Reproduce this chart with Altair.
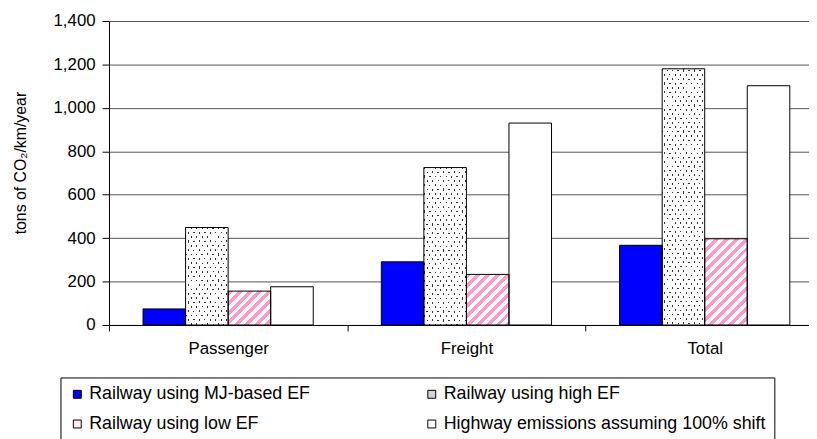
import altair as alt
import pandas as pd

# ---------------- data ----------------
categories = ["Passenger", "Freight", "Total"]
series_names = [
    "Railway using MJ-based EF",
    "Railway using high EF",
    "Railway using low EF",
    "Highway emissions assuming 100% shift",
]
mj_based_ef = [74, 291, 367]
high_ef = [449, 725, 1180]
low_ef = [156, 233, 397]
highway_shift = [176, 930, 1102]
y_ticks = [0, 200, 400, 600, 800, 1000, 1200, 1400]

rows = []
for s, vals in zip(series_names, [mj_based_ef, high_ef, low_ef, highway_shift]):
    for c, v in zip(categories, vals):
        rows.append({"category": c, "series": s, "value": v})
df = pd.DataFrame(rows)

# ---------------- layout / style ----------------
FONT = "Liberation Sans"
VIEW_W = 707          # visible plot width (right part is cut off as in the reference)
X_RANGE = 722         # full band range of the category axis
VIEW_H = 307
YMAX = 1400
OUTER = 0.8           # xOffset outer padding (in steps)
BAR_W = X_RANGE / 3 / (4 + 2 * OUTER)

base_fill = ["#0000ff", "#d4d4d4", "#ffeef6", "#ffffff"]


def stripe_gradient(w, h, a, sign, period, width, c_on, c_off):
    """Linear gradient of stripes whose iso-lines are x + sign*a*y = const (pixels)."""
    L = w + a * h
    A = w / L
    B = a * h / L
    n2 = A * A + B * B
    if sign > 0:
        x1, y1, x2, y2 = 0, 0, A / n2, B / n2
    else:
        x1, y1, x2, y2 = 0, 1, A / n2, 1 - B / n2
    pt = period / L
    dt = width / L
    stops = []
    k = 0
    while k * pt < 1:
        s0 = k * pt
        s1 = min(s0 + dt, 1.0)
        s2 = min(s0 + pt, 1.0)
        stops += [(s0, c_on), (s1, c_on), (s1, c_off), (s2, c_off)]
        k += 1
    return alt.LinearGradient(
        gradient="linear", x1=x1, y1=y1, x2=x2, y2=y2,
        stops=[alt.GradientStop(offset=round(o, 5), color=c) for o, c in stops],
    )


x_scale = alt.Scale(domain=categories, range=[0, X_RANGE], paddingInner=0, paddingOuter=0)
xo_scale = alt.Scale(domain=series_names, paddingInner=0, paddingOuter=OUTER)
y_scale = alt.Scale(domain=[0, YMAX], nice=False)

x_axis = alt.Axis(
    title=None, labelAngle=0, labelFont=FONT, labelFontSize=17,
    labelColor="black", tickBand="extent", tickSize=6, tickColor="black",
    domainColor="black", labelPadding=10, grid=False,
)
y_axis = alt.Axis(
    values=y_ticks, format=",d", grid=True, gridColor="#555555",
    gridWidth=1, domainColor="black", tickColor="black", tickSize=7,
    labelFont=FONT, labelFontSize=17, labelColor="black", labelPadding=7,
    title="tons of CO₂/km/year", titleFont=FONT, titleFontSize=16,
    titleFontWeight="normal", titleColor="black", titleX=-89, titleY=143,
    titleAngle=270, titleAlign="center", titleBaseline="middle",
)


def enc_plain():
    return dict(
        x=alt.X("category:N", scale=x_scale, axis=x_axis, title=None),
        xOffset=alt.XOffset("series:N", scale=xo_scale),
        y=alt.Y("value:Q", scale=y_scale, axis=y_axis, title="tons of CO₂/km/year"),
    )


base = alt.Chart(df).mark_bar(strokeWidth=0).encode(
    **enc_plain(),
    fill=alt.Fill(
        "series:N",
        scale=alt.Scale(domain=series_names, range=base_fill),
        legend=alt.Legend(
            title=None, orient="none", legendX=-49, legendY=360, columns=2,
            direction="horizontal",
            symbolType="square", symbolSize=64, symbolStrokeColor="black",
            symbolStrokeWidth=1, labelFont=FONT, labelFontSize=18,
            labelColor="black", labelLimit=600, columnPadding=113, rowPadding=12,
            padding=8, strokeColor="black", fillColor="white", labelOffset=3,
        ),
    ),
)

layers = [base]

# dotted pattern for "high EF" bars, pink stripes for "low EF" bars
for c, v in zip(categories, high_ef):
    h = v / YMAX * VIEW_H
    ga = stripe_gradient(BAR_W, h, 0.625, 1, 5.5, 1.5, "#333333", "#ffffff")
    gb = stripe_gradient(BAR_W, h, 0.625, -1, 5.5, 1.5, "rgba(255,255,255,0)", "#ffffff")
    flt = (alt.datum.category == c) & (alt.datum.series == series_names[1])
    layers.append(alt.Chart(df).transform_filter(flt).mark_bar(fill=ga, strokeWidth=0).encode(**enc_plain()))
    layers.append(alt.Chart(df).transform_filter(flt).mark_bar(fill=gb, strokeWidth=0).encode(**enc_plain()))

for c, v in zip(categories, low_ef):
    h = v / YMAX * VIEW_H
    gp = stripe_gradient(BAR_W, h, 1.0, 1, 10.0, 5.0, "#ff99cc", "#ffffff")
    flt = (alt.datum.category == c) & (alt.datum.series == series_names[2])
    layers.append(alt.Chart(df).transform_filter(flt).mark_bar(fill=gp, strokeWidth=0).encode(**enc_plain()))

outline = alt.Chart(df).mark_bar(fillOpacity=0, stroke="black", strokeWidth=1).encode(**enc_plain())
layers.append(outline)

chart = (
    alt.layer(*layers)
    .properties(
        width=VIEW_W, height=VIEW_H,
        autosize=alt.AutoSizeParams(type="none"),
        padding={"left": 102, "top": 11, "right": 0, "bottom": 113},
        background="white",
    )
    .configure_view(stroke=None)
)

chart.save("out.html", embed_options={"renderer": "svg", "actions": False})
